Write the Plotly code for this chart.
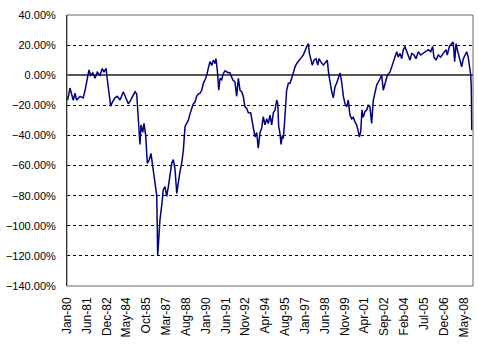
import pandas as pd
import plotly.graph_objects as go

# Observation times as decimal years, and the series value (%) at each
YEARS = [
    1980.00, 1980.05, 1980.21, 1980.34, 1980.45, 1980.57, 1980.69, 1980.93, 1981.16, 1981.29,
    1981.45, 1981.57, 1981.69, 1981.84, 1982.00, 1982.16, 1982.36, 1982.52, 1982.64, 1982.79,
    1982.88, 1982.98, 1983.12, 1983.26, 1983.43, 1983.59, 1983.79, 1984.02, 1984.21, 1984.38,
    1984.55, 1984.69, 1984.86, 1984.98, 1985.05, 1985.16, 1985.21, 1985.29, 1985.41, 1985.50,
    1985.62, 1985.74, 1985.88, 1986.00, 1986.12, 1986.21, 1986.34, 1986.41, 1986.48, 1986.55,
    1986.64, 1986.76, 1986.88, 1987.00, 1987.12, 1987.24, 1987.36, 1987.48, 1987.59, 1987.71,
    1987.84, 1987.95, 1988.07, 1988.19, 1988.31, 1988.43, 1988.55, 1988.66, 1988.79, 1988.91,
    1989.02, 1989.14, 1989.26, 1989.38, 1989.50, 1989.62, 1989.74, 1989.86, 1989.98, 1990.09,
    1990.21, 1990.34, 1990.45, 1990.57, 1990.64, 1990.74, 1990.84, 1990.93, 1991.05, 1991.16,
    1991.29, 1991.45, 1991.64, 1991.84, 1992.00, 1992.12, 1992.24, 1992.36, 1992.48, 1992.59,
    1992.71, 1992.84, 1992.95, 1993.12, 1993.19, 1993.31, 1993.43, 1993.55, 1993.66, 1993.79,
    1993.91, 1994.02, 1994.14, 1994.26, 1994.38, 1994.50, 1994.62, 1994.74, 1994.86, 1994.98,
    1995.05, 1995.12, 1995.21, 1995.29, 1995.38, 1995.45, 1995.52, 1995.59, 1995.69, 1995.81,
    1995.93, 1996.05, 1996.16, 1996.29, 1996.41, 1996.52, 1996.64, 1996.76, 1996.88, 1997.00,
    1997.12, 1997.24, 1997.31, 1997.41, 1997.52, 1997.64, 1997.79, 1997.91, 1998.00, 1998.12,
    1998.31, 1998.50, 1998.59, 1998.69, 1998.79, 1998.91, 1999.02, 1999.14, 1999.26, 1999.38,
    1999.50, 1999.62, 1999.74, 1999.86, 1999.98, 2000.09, 2000.21, 2000.34, 2000.45, 2000.57,
    2000.69, 2000.81, 2000.88, 2000.98, 2001.07, 2001.16, 2001.29, 2001.41, 2001.52, 2001.64,
    2001.76, 2001.88, 2002.00, 2002.12, 2002.24, 2002.36, 2002.48, 2002.59, 2002.71, 2002.88,
    2003.07, 2003.19, 2003.31, 2003.43, 2003.55, 2003.66, 2003.79, 2003.91, 2004.02, 2004.14,
    2004.26, 2004.38, 2004.50, 2004.62, 2004.79, 2004.93, 2005.09, 2005.26, 2005.45, 2005.64,
    2005.81, 2005.98, 2006.12, 2006.21, 2006.36, 2006.52, 2006.69, 2006.88, 2007.07, 2007.16,
    2007.31, 2007.48, 2007.59, 2007.69, 2007.79, 2007.88, 2008.02, 2008.19, 2008.31, 2008.43,
    2008.55, 2008.66, 2008.74, 2008.84, 2008.88, 2008.91,
]
VALUES = [
    -14.0, -16.5, -8.5, -13.0, -16.6, -12.0, -16.5, -14.0, -15.0, -10.0,
    -2.0, 3.5, 0.0, 1.5, -2.0, 2.0, 0.0, 4.5, 2.0, 4.5,
    -3.0, -9.0, -20.5, -17.5, -15.0, -14.0, -16.5, -11.0, -15.0, -19.0,
    -16.5, -14.0, -11.0, -12.5, -25.0, -37.5, -46.0, -33.0, -38.0, -32.0,
    -40.0, -58.5, -56.0, -52.0, -61.0, -64.0, -74.0, -80.0, -119.5, -105.0,
    -96.0, -87.0, -76.0, -74.0, -80.5, -74.0, -67.0, -58.5, -56.0, -62.0,
    -78.5, -70.0, -64.0, -58.5, -50.0, -34.0, -32.0, -30.0, -25.5, -22.0,
    -19.0, -18.0, -14.0, -12.5, -12.0, -10.0, -5.4, -3.0, 0.0, 4.5,
    9.0, 6.5, 10.0, 7.8, 11.0, 3.0, -10.0, -2.0, -3.0, 1.0,
    3.0, 2.0, 1.5, -3.0, -4.5, -14.0, -2.0, -10.0, -11.0, -14.0,
    -21.0, -22.0, -25.0, -25.0, -30.0, -35.0, -41.0, -38.0, -48.5, -38.0,
    -35.0, -27.5, -33.0, -29.0, -32.0, -26.5, -33.0, -25.0, -23.0, -16.5,
    -18.5, -34.0, -38.5, -46.0, -40.0, -42.0, -34.0, -24.0, -10.0, -5.4,
    -5.4, -2.0, 2.0, 5.6, 7.8, 9.0, 10.0, 12.0, 13.4, 17.0,
    19.0, 21.0, 14.5, 11.0, 6.7, 10.0, 11.0, 6.7, 11.0, 9.0,
    6.7, 8.9, 10.0, 1.0, -5.4, -11.0, -15.0, -7.8, -5.4, -1.0,
    1.5, -4.5, -14.0, -19.0, -21.0, -16.5, -26.5, -29.0, -28.0, -31.0,
    -33.0, -37.5, -41.0, -37.5, -23.0, -28.0, -24.0, -23.0, -20.0, -21.0,
    -32.0, -16.5, -12.0, -6.5, -4.5, -2.0, 0.0, -10.0, -6.5, 0.0,
    2.0, 5.6, 10.0, 13.4, 15.6, 12.0, 14.5, 11.0, 17.0, 19.0,
    15.6, 13.4, 10.0, 14.5, 13.4, 11.0, 15.6, 13.4, 14.5, 15.6,
    17.0, 15.6, 19.0, 12.0, 10.0, 13.4, 12.0, 14.5, 17.0, 13.4,
    19.0, 21.0, 22.0, 9.0, 21.0, 17.0, 11.0, 5.6, 11.0, 13.4,
    15.6, 12.0, 5.6, 0.0, -9.0, -36.4,
]

# Category-style date labels, one every 17 months from Jan-80
TICK_LABELS = [
    "Jan-80", "Jun-81", "Dec-82", "May-84", "Oct-85", "Mar-87", "Aug-88",
    "Jan-90", "Jun-91", "Nov-92", "Apr-94", "Aug-95", "Jan-97", "Jun-98",
    "Nov-99", "Apr-01", "Sep-02", "Feb-04", "Jul-05", "Dec-06", "May-08",
]


def to_date(y):
    return pd.Timestamp("1980-01-01") + pd.Timedelta(days=(y - 1980.0) * 365.25)


dates = [to_date(y) for y in YEARS]
tick_pos = [to_date(1980 + i * 17 / 12) for i in range(len(TICK_LABELS))]
x_end = to_date(2009.0)

fig = go.Figure()
fig.add_trace(go.Scatter(
    x=dates, y=VALUES, mode="lines",
    line=dict(color="#000080", width=1.5),
    showlegend=False, hoverinfo="skip",
))

fig.update_layout(
    width=478, height=349,
    margin=dict(l=67, r=5, t=15, b=63),
    paper_bgcolor="white", plot_bgcolor="white",
    font=dict(family="Liberation Sans, Arial, sans-serif", size=11, color="black"),
    shapes=[dict(type="rect", xref="paper", yref="paper", x0=0, x1=1, y0=0, y1=1,
                 line=dict(color="#666666", width=1), layer="above")],
)
fig.update_xaxes(
    type="date", range=[tick_pos[0], x_end],
    tickmode="array", tickvals=tick_pos, ticktext=TICK_LABELS,
    tickangle=-90, tickfont=dict(size=12),
    showgrid=False, zeroline=False, showline=False,
    ticks="", ticklabelstandoff=8,
)
fig.update_yaxes(
    range=[-140, 40], dtick=20, tick0=0,
    tickformat=".2f", ticksuffix="%",
    showgrid=True, gridcolor="black", gridwidth=1, griddash="3px,3px",
    zeroline=True, zerolinecolor="#555555", zerolinewidth=2,
    showline=True, linecolor="black", linewidth=1,
    ticks="", ticklabelstandoff=8,
)

fig.write_html("out.html")
